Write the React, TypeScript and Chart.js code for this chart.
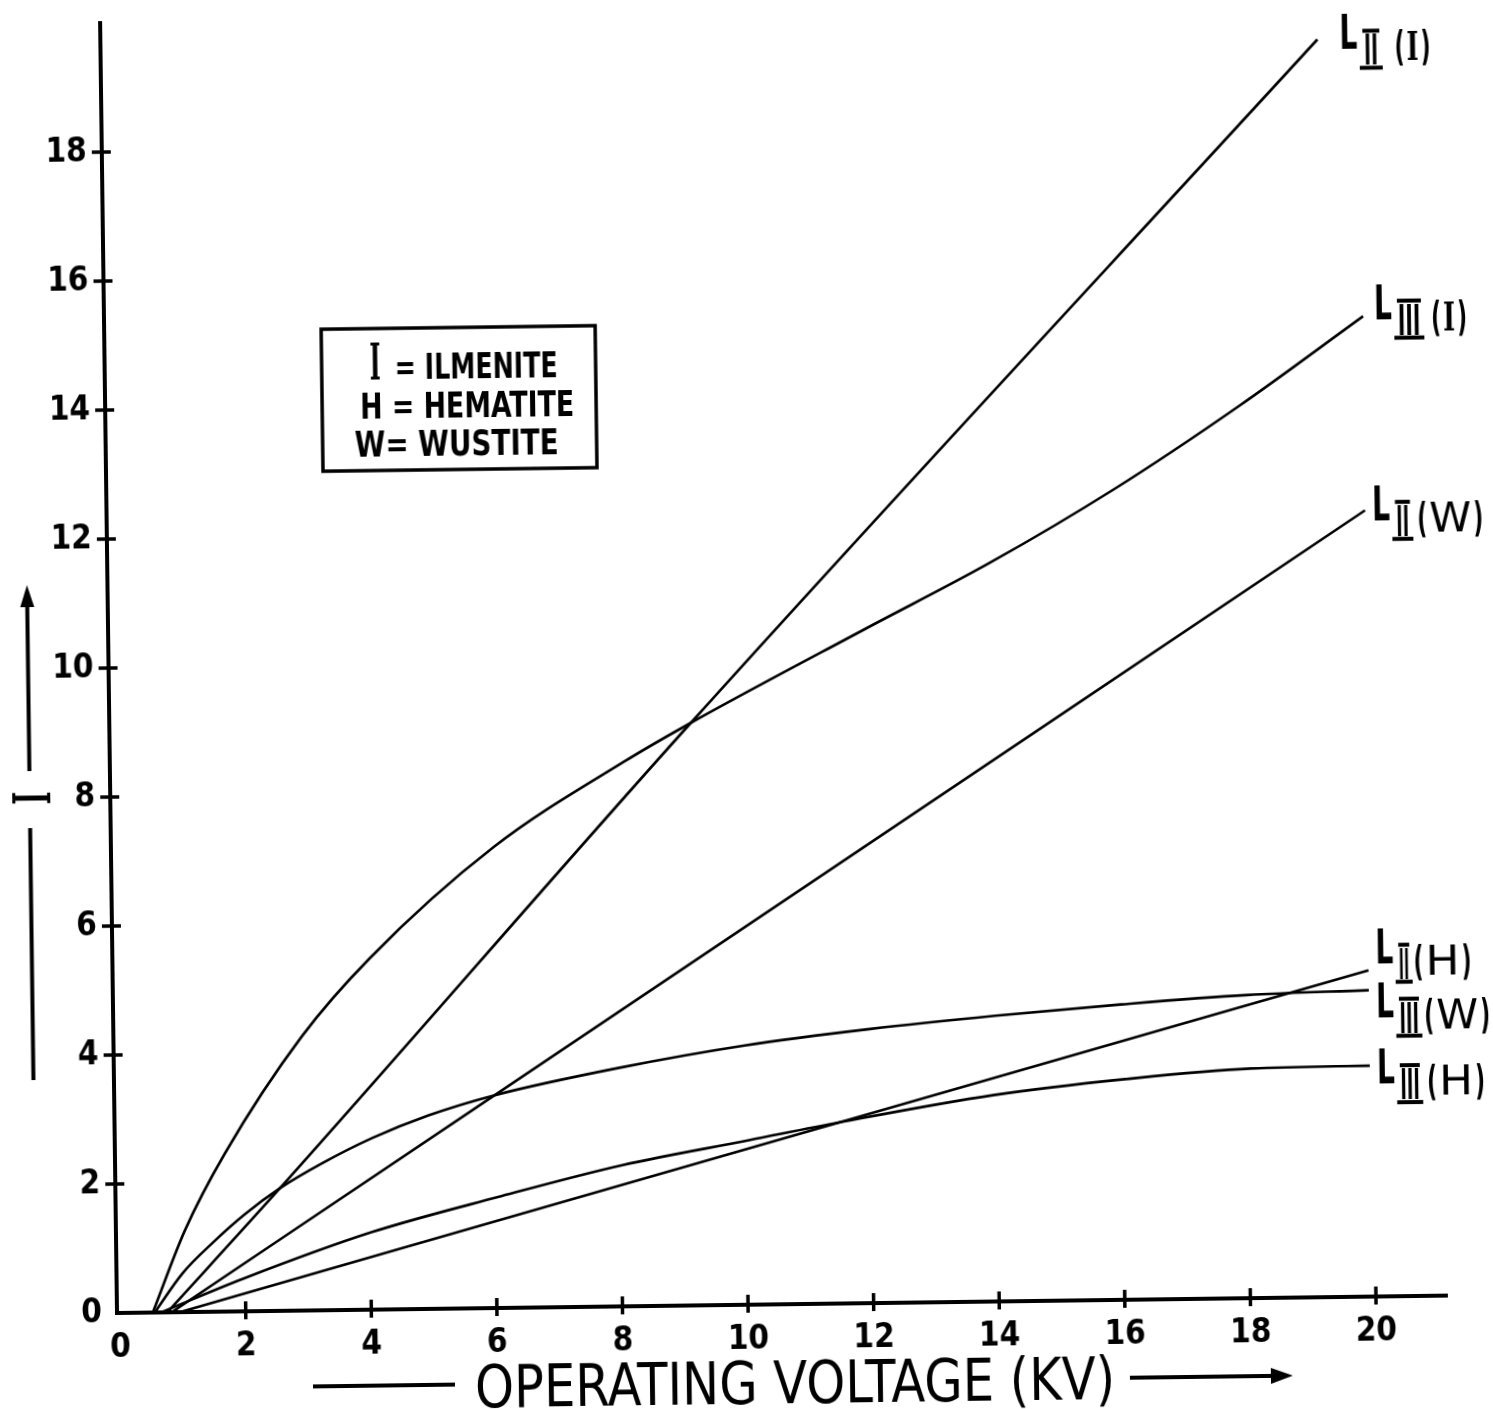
import React, { useEffect, useRef } from 'react';
import { Chart, registerables } from 'chart.js';

Chart.register(...registerables);

// ---- data ----
const X_TICKS = [0, 2, 4, 6, 8, 10, 12, 14, 16, 18, 20];
const Y_TICKS = [0, 2, 4, 6, 8, 10, 12, 14, 16, 18];

const L2_I_X = [0.75, 2.57, 9.18, 19.33];
const L2_I_Y = [0, 1.9, 9.0, 19.5];

const L3_I_X = [0.52, 1.05, 1.7, 2.95, 4.05, 6.05, 8.15, 9.15, 12.0, 14.0, 16.0, 18.0, 20.0];
const L3_I_Y = [0, 1.27, 2.45, 4.25, 5.45, 7.15, 8.45, 9.0, 10.45, 11.45, 12.57, 13.83, 15.2];

const L2_W_X = [0.82, 6.01, 19.99];
const L2_W_Y = [0, 3.3, 12.19];

const L2_H_X = [0.95, 11.5, 19.95];
const L2_H_Y = [0, 2.81, 5.06];

const L3_W_X = [0.55, 1.0, 1.5, 2.0, 2.57, 3.25, 4.05, 4.95, 6.01, 8.0, 10.0, 12.0, 14.0, 16.0, 18.0, 19.95];
const L3_W_Y = [0, 0.6, 1.08, 1.5, 1.9, 2.28, 2.66, 3.0, 3.3, 3.7, 4.02, 4.25, 4.43, 4.58, 4.7, 4.75];

const L3_H_X = [0.65, 1.95, 4.02, 6.04, 8.03, 10.05, 11.5, 13.95, 16.05, 18.05, 19.95];
const L3_H_Y = [0, 0.5, 1.2, 1.72, 2.19, 2.55, 2.81, 3.2, 3.42, 3.56, 3.58];

const SERIES = [
  { name: 'L II (I)', xs: L2_I_X, ys: L2_I_Y },
  { name: 'L III (I)', xs: L3_I_X, ys: L3_I_Y },
  { name: 'L II (W)', xs: L2_W_X, ys: L2_W_Y },
  { name: 'L II (H)', xs: L2_H_X, ys: L2_H_Y },
  { name: 'L III (W)', xs: L3_W_X, ys: L3_W_Y },
  { name: 'L III (H)', xs: L3_H_X, ys: L3_H_Y },
];

const LEGEND_LINES = ['I = ILMENITE', 'H = HEMATITE', 'W= WUSTITE'];
const X_TITLE = 'OPERATING VOLTAGE (KV)';
const Y_TITLE = 'I';

// ---- layout / style ----
const W = 1510;
const H = 1440;
const FONT = '"DejaVu Sans Condensed", "Liberation Sans Narrow", "DejaVu Sans", sans-serif';
const SERIF = '"DejaVu Serif", "Liberation Serif", serif';

const CURVE_LABELS = [
  { series: 0, num: 'II', letter: 'I', dx: 22, dy: 10, barW: 23, gap: 12 },
  { series: 1, num: 'III', letter: 'I', dx: 11, dy: 3, barW: 30, gap: 7 },
  { series: 2, num: 'II', letter: 'W', dx: 7, dy: 10, barW: 21, gap: 4 },
  { series: 3, num: 'II', letter: 'H', dx: 7, dy: -7, barW: 17, gap: 1 },
  { series: 4, num: 'III', letter: 'W', dx: 7, dy: 27, barW: 26, gap: 2 },
  { series: 5, num: 'III', letter: 'H', dx: 7, dy: 18, barW: 26, gap: 4 },
];
const LETTER_W: Record<string, number> = { I: 12, W: 42, H: 34 };

function drawFit(ctx: CanvasRenderingContext2D, text: string, x: number, y: number, targetW: number) {
  const w = ctx.measureText(text).width || 1;
  ctx.save();
  ctx.translate(x, y);
  ctx.scale(targetW / w, 1);
  ctx.textAlign = 'left';
  ctx.fillText(text, 0, 0);
  ctx.restore();
}

function line(ctx: CanvasRenderingContext2D, x1: number, y1: number, x2: number, y2: number) {
  ctx.beginPath();
  ctx.moveTo(x1, y1);
  ctx.lineTo(x2, y2);
  ctx.stroke();
}

const decor = {
  id: 'decor',
  afterDraw(chart: any) {
    const ctx: CanvasRenderingContext2D = chart.ctx;
    const xs = chart.scales.x;
    const ys = chart.scales.y;
    const { left, bottom } = chart.chartArea;
    ctx.save();
    ctx.strokeStyle = '#000';
    ctx.fillStyle = '#000';
    ctx.textBaseline = 'alphabetic';

    // tick marks crossing the axes
    ctx.lineWidth = 3.5;
    X_TICKS.forEach((v) => {
      if (v === 0) return;
      const px = xs.getPixelForValue(v);
      line(ctx, px, bottom - 10, px, bottom + 8);
    });
    Y_TICKS.forEach((v) => {
      if (v === 0) return;
      const py = ys.getPixelForValue(v);
      line(ctx, left - 10, py, left + 9, py);
    });

    // legend box
    ctx.lineWidth = 3.5;
    ctx.strokeRect(334, 332, 274, 142);
    ctx.font = `bold 50px ${SERIF}`;
    drawFit(ctx, LEGEND_LINES[0].slice(0, 1), 382, 382.5, 11);
    ctx.font = `bold 35px ${FONT}`;
    drawFit(ctx, LEGEND_LINES[0].slice(2), 407, 382.5, 163);
    drawFit(ctx, LEGEND_LINES[1], 372, 421.5, 214);
    drawFit(ctx, LEGEND_LINES[2], 366, 459.5, 204);

    // curve end labels
    CURVE_LABELS.forEach((lb) => {
      const s = SERIES[lb.series];
      const n = s.xs.length - 1;
      const ex = xs.getPixelForValue(s.xs[n]);
      const ey = ys.getPixelForValue(s.ys[n]);
      const ax = ex + lb.dx;
      const ay = ey + lb.dy;
      ctx.font = `bold 48px ${FONT}`;
      drawFit(ctx, 'L', ax, ay, 18);
      const nx = ax + 20;
      const barW = lb.barW;
      const strokeW = lb.num === 'II' ? barW * 0.6 : barW * 0.75;
      const top = ay - 18;
      const bot = ay + 19;
      ctx.lineWidth = 4;
      line(ctx, nx + 3, top, nx + barW - 3, top);
      line(ctx, nx, bot, nx + barW, bot);
      ctx.font = `bold 42px ${FONT}`;
      drawFit(ctx, lb.num, nx + (barW - strokeW) / 2, bot - 3, strokeW);
      const sx = nx + barW + lb.gap;
      const base = ay + 12;
      const letterW = LETTER_W[lb.letter];
      ctx.font = `bold 40px ${FONT}`;
      drawFit(ctx, '(', sx, base, 10);
      ctx.font = lb.letter === 'I' ? `bold 40px ${SERIF}` : `40px ${FONT}`;
      drawFit(ctx, lb.letter, sx + 12, base, letterW);
      ctx.font = `bold 40px ${FONT}`;
      drawFit(ctx, ')', sx + 12 + letterW + 2, base, 10);
    });

    // y title: arrow, "I", line
    ctx.lineWidth = 4;
    const tx = 36.5;
    line(ctx, tx, 770, tx, 600);
    ctx.beginPath();
    ctx.moveTo(tx, 584);
    ctx.lineTo(tx - 7, 606);
    ctx.lineTo(tx + 7, 606);
    ctx.closePath();
    ctx.fill();
    line(ctx, tx, 827, tx, 1079);
    ctx.save();
    ctx.translate(tx + 1, 797);
    ctx.rotate(-Math.PI / 2);
    ctx.font = `bold 52px ${SERIF}`;
    const iw = ctx.measureText(Y_TITLE).width || 1;
    ctx.scale(13 / iw, 1);
    ctx.textAlign = 'center';
    ctx.fillText(Y_TITLE, 0, 19);
    ctx.restore();

    // x title with dash and arrow
    ctx.lineWidth = 4;
    line(ctx, 312, 1389, 454, 1389);
    line(ctx, 1129, 1391, 1275, 1391);
    ctx.beginPath();
    ctx.moveTo(1292, 1391);
    ctx.lineTo(1270, 1383);
    ctx.lineTo(1270, 1399);
    ctx.closePath();
    ctx.fill();
    ctx.font = `59px ${FONT}`;
    drawFit(ctx, X_TITLE, 474, 1412, 640);

    ctx.restore();
  },
};

export default function App() {
  const ref = useRef<HTMLCanvasElement | null>(null);

  useEffect(() => {
    if (!ref.current) return;
    const chart = new Chart(ref.current, {
      type: 'line',
      data: {
        datasets: SERIES.map((s) => ({
          label: s.name,
          data: s.xs.map((x, i) => ({ x, y: s.ys[i] })),
          borderColor: '#000',
          borderWidth: 2.6,
          pointRadius: 0,
          fill: false,
          cubicInterpolationMode: 'monotone' as const,
        })),
      },
      options: {
        animation: false,
        responsive: false,
        layout: { padding: { left: 0, top: 23, right: W - 1447, bottom: 0 } },
        plugins: { legend: { display: false }, tooltip: { enabled: false } },
        scales: {
          x: {
            type: 'linear',
            min: -0.05,
            max: 21.13,
            grid: { display: false, drawTicks: false },
            border: { display: true, width: 4, color: '#000' },
            ticks: {
              stepSize: 2,
              includeBounds: false,
              autoSkip: false,
              maxRotation: 0,
              padding: 16,
              color: '#000',
              font: { family: FONT, size: 33, weight: 'bold' },
              callback: (v: any) => (X_TICKS.includes(Number(v)) ? String(v) : ''),
            },
            afterFit: (s: any) => {
              s.height = H - 1313;
              s.paddingLeft = 0;
              s.paddingRight = 0;
            },
          },
          y: {
            type: 'linear',
            min: 0,
            max: 20,
            grid: { display: false, drawTicks: false },
            border: { display: true, width: 4, color: '#000' },
            ticks: {
              stepSize: 2,
              autoSkip: false,
              padding: 15,
              color: '#000',
              font: { family: FONT, size: 33, weight: 'bold' },
              callback: (v: any) => (Y_TICKS.includes(Number(v)) ? String(v) : ''),
            },
            afterFit: (s: any) => {
              s.width = 117;
              s.paddingTop = 0;
              s.paddingBottom = 0;
            },
          },
        },
      },
      plugins: [decor],
    } as any);
    return () => chart.destroy();
  }, []);

  return (
    <div style={{ position: 'fixed', left: 0, top: 0, width: '100vw', height: '100vh', overflow: 'hidden', background: '#fff' }}>
      <div
        style={{
          position: 'absolute',
          left: 0,
          top: 0,
          width: W,
          height: H,
          transform: 'rotate(-0.75deg)',
          transformOrigin: '117px 1313px',
        }}
      >
        <canvas ref={ref} width={W} height={H} style={{ width: W, height: H, display: 'block' }} />
      </div>
    </div>
  );
}
